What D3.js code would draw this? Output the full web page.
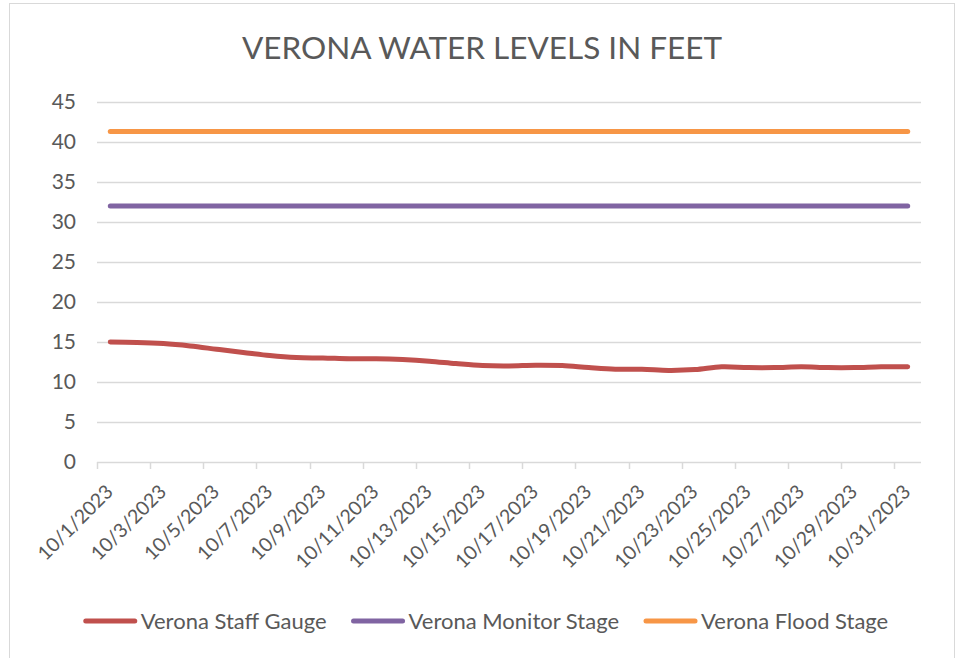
<!DOCTYPE html>
<html>
<head>
<meta charset="utf-8">
<script src="https://cdn.jsdelivr.net/npm/d3@7"></script>
<style>
  body { margin: 0; background: #fff; }
  text { font-family: Lato, "Open Sans", sans-serif; fill: #595959; }
</style>
</head>
<body>
<div id="chart"></div>
<script>
// categories (one per day)
const dates = [
  "10/1/2023", "10/2/2023", "10/3/2023", "10/4/2023", "10/5/2023", "10/6/2023", "10/7/2023", "10/8/2023",
  "10/9/2023", "10/10/2023", "10/11/2023", "10/12/2023", "10/13/2023", "10/14/2023", "10/15/2023", "10/16/2023",
  "10/17/2023", "10/18/2023", "10/19/2023", "10/20/2023", "10/21/2023", "10/22/2023", "10/23/2023", "10/24/2023",
  "10/25/2023", "10/26/2023", "10/27/2023", "10/28/2023", "10/29/2023", "10/30/2023", "10/31/2023"
];

const staffGauge = [
  15.0, 14.95, 14.8, 14.5, 14.1, 13.7, 13.3, 13.05, 13.0, 12.9, 12.9, 12.8, 12.6, 12.3, 12.05, 12.0,
  12.1, 12.05, 11.8, 11.6, 11.6, 11.45, 11.55, 11.9, 11.8, 11.8, 11.9, 11.8, 11.8, 11.9, 11.9
];

const monitorStage = [
  32, 32, 32, 32, 32, 32, 32, 32, 32, 32, 32, 32, 32, 32, 32, 32,
  32, 32, 32, 32, 32, 32, 32, 32, 32, 32, 32, 32, 32, 32, 32
];

const floodStage = [
  41.3, 41.3, 41.3, 41.3, 41.3, 41.3, 41.3, 41.3, 41.3, 41.3, 41.3, 41.3, 41.3, 41.3, 41.3, 41.3,
  41.3, 41.3, 41.3, 41.3, 41.3, 41.3, 41.3, 41.3, 41.3, 41.3, 41.3, 41.3, 41.3, 41.3, 41.3
];

const yTicks = [0, 5, 10, 15, 20, 25, 30, 35, 40, 45];
const xTickLabels = dates.filter((d, i) => i % 2 === 0);

const series = [
  { name: "Verona Staff Gauge", values: staffGauge, color: "#C0504D" },
  { name: "Verona Monitor Stage", values: monitorStage, color: "#8064A2" },
  { name: "Verona Flood Stage", values: floodStage, color: "#F79646" }
];

const width = 956, height = 658;
const margin = { top: 102, right: 35, bottom: 196, left: 97 };

const svg = d3.select("#chart").append("svg")
  .attr("width", width)
  .attr("height", height);

svg.append("rect")
  .attr("x", 9.5).attr("y", 3.5)
  .attr("width", 945).attr("height", 670)
  .attr("fill", "#fff")
  .attr("stroke", "#d9d9d9");

svg.append("text")
  .attr("x", 482)
  .attr("y", 59)
  .attr("text-anchor", "middle")
  .style("font-size", "31.5px")
  .text("VERONA WATER LEVELS IN FEET");

const x = d3.scaleBand()
  .domain(dates)
  .range([margin.left, width - margin.right])
  .padding(0);

const y = d3.scaleLinear()
  .domain([0, 45])
  .range([height - margin.bottom, margin.top]);

// gridlines + y labels
const grid = svg.append("g");
yTicks.forEach(t => {
  grid.append("line")
    .attr("x1", margin.left).attr("x2", width - margin.right)
    .attr("y1", Math.round(y(t)) + 0.5).attr("y2", Math.round(y(t)) + 0.5)
    .attr("stroke", "#d9d9d9")
    .attr("stroke-width", 1.5);
  grid.append("text")
    .attr("x", 76)
    .attr("y", y(t))
    .attr("dy", "0.35em")
    .attr("text-anchor", "end")
    .style("font-size", "21px")
    .text(t);
});

// x tick marks every 2 categories, on boundaries
const xAxis = svg.append("g");
dates.forEach((d, i) => {
  if (i % 2 !== 0) return;
  const bx = Math.round(x(d)) + 0.5;
  xAxis.append("line")
    .attr("x1", bx).attr("x2", bx)
    .attr("y1", y(0)).attr("y2", y(0) + 7)
    .attr("stroke", "#d9d9d9")
    .attr("stroke-width", 1.5);
});

xTickLabels.forEach(d => {
  const cx = x(d) + x.bandwidth() / 2;
  xAxis.append("text")
    .attr("text-anchor", "end")
    .attr("transform", `translate(${cx + 4},${y(0) + 31}) rotate(-45)`)
    .style("font-size", "19.5px")
    .text(d);
});

const line = d3.line()
  .x((v, i) => x(dates[i]) + x.bandwidth() / 2)
  .y(v => y(v))
  .curve(d3.curveCatmullRom.alpha(0.5));

series.forEach(s => {
  svg.append("path")
    .datum(s.values)
    .attr("fill", "none")
    .attr("stroke", s.color)
    .attr("stroke-width", 5)
    .attr("stroke-linecap", "round")
    .attr("stroke-linejoin", "round")
    .attr("d", line);
});

// legend
const legend = svg.append("g");
let lx = 0;
series.forEach(s => {
  const item = legend.append("g").attr("transform", `translate(${lx},0)`);
  item.append("line")
    .attr("x1", 2).attr("x2", 51)
    .attr("y1", 0).attr("y2", 0)
    .attr("stroke", s.color)
    .attr("stroke-width", 5)
    .attr("stroke-linecap", "round");
  const t = item.append("text")
    .attr("x", 57)
    .attr("dy", "0.35em")
    .style("font-size", "22px")
    .text(s.name);
  lx += 57 + t.node().getComputedTextLength() + 25;
});
const legendWidth = lx - 25;
legend.attr("transform", `translate(${486 - legendWidth / 2},621)`);
</script>
</body>
</html>
